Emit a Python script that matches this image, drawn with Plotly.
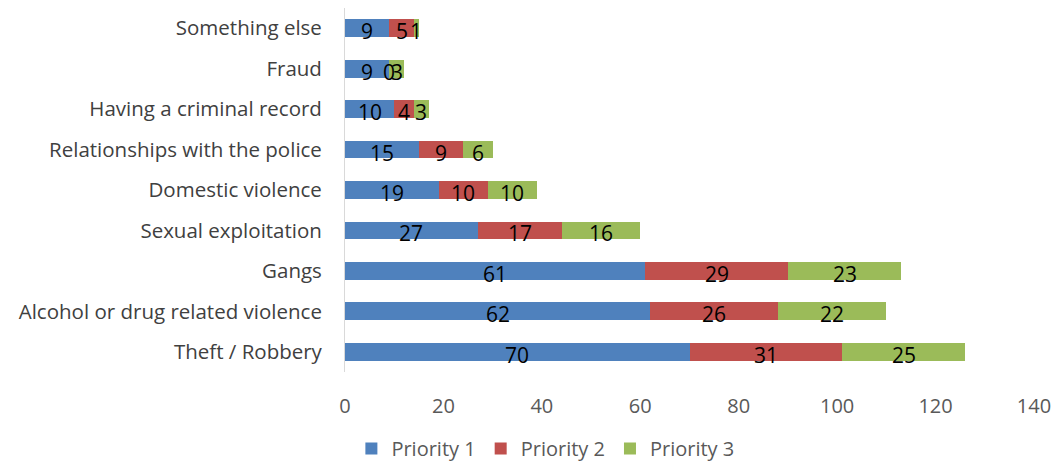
import plotly.graph_objects as go

categories = [
    "Theft / Robbery",
    "Alcohol or drug related violence",
    "Gangs",
    "Sexual exploitation",
    "Domestic violence",
    "Relationships with the police",
    "Having a criminal record",
    "Fraud",
    "Something else",
]
priority_1 = [70, 62, 61, 27, 19, 15, 10, 9, 9]
priority_2 = [31, 26, 29, 17, 10, 9, 4, 0, 5]
priority_3 = [25, 22, 23, 16, 10, 6, 3, 3, 1]
x_ticks = [0, 20, 40, 60, 80, 100, 120, 140]

series = [
    ("Priority 1", priority_1, "#4F81BD"),
    ("Priority 2", priority_2, "#C0504D"),
    ("Priority 3", priority_3, "#9BBB59"),
]

FONT = "'Open Sans', sans-serif"

fig = go.Figure()
annotations = []
base = [0] * len(categories)
for name, vals, color in series:
    fig.add_trace(go.Bar(
        name=name, y=categories, x=vals, orientation="h",
        marker=dict(color=color, line=dict(width=0)),
        hoverinfo="x+y",
    ))
    for i, v in enumerate(vals):
        annotations.append(dict(
            x=base[i] + v / 2, y=categories[i], xref="x", yref="y",
            text=str(v), showarrow=False,
            font=dict(family=FONT, size=21, color="#000000"),
            yshift=-3,
        ))
        base[i] += v

fig.update_layout(
    barmode="stack",
    bargap=0.56,
    width=1059, height=468,
    margin=dict(l=345, r=22, t=8, b=96),
    paper_bgcolor="white", plot_bgcolor="white",
    font=dict(family=FONT, color="#595959"),
    annotations=annotations,
    showlegend=True,
    legend=dict(
        orientation="h", xref="container", yref="container",
        x=0.515, xanchor="center", y=0.0, yanchor="bottom",
        font=dict(family=FONT, size=20, color="#595959"),
        itemwidth=30, traceorder="normal",
    ),
    xaxis=dict(
        range=[0, 140], tickvals=x_ticks, showgrid=False, zeroline=False,
        showline=False, ticks="", ticklabelstandoff=20,
        tickfont=dict(family=FONT, size=20, color="#595959"),
    ),
    yaxis=dict(
        showgrid=False, showline=True, linecolor="#D9D9D9", linewidth=1,
        ticks="", ticklabelstandoff=18,
        tickfont=dict(family=FONT, size=20.5, color="#404040"),
    ),
)

fig.write_html("out.html")
